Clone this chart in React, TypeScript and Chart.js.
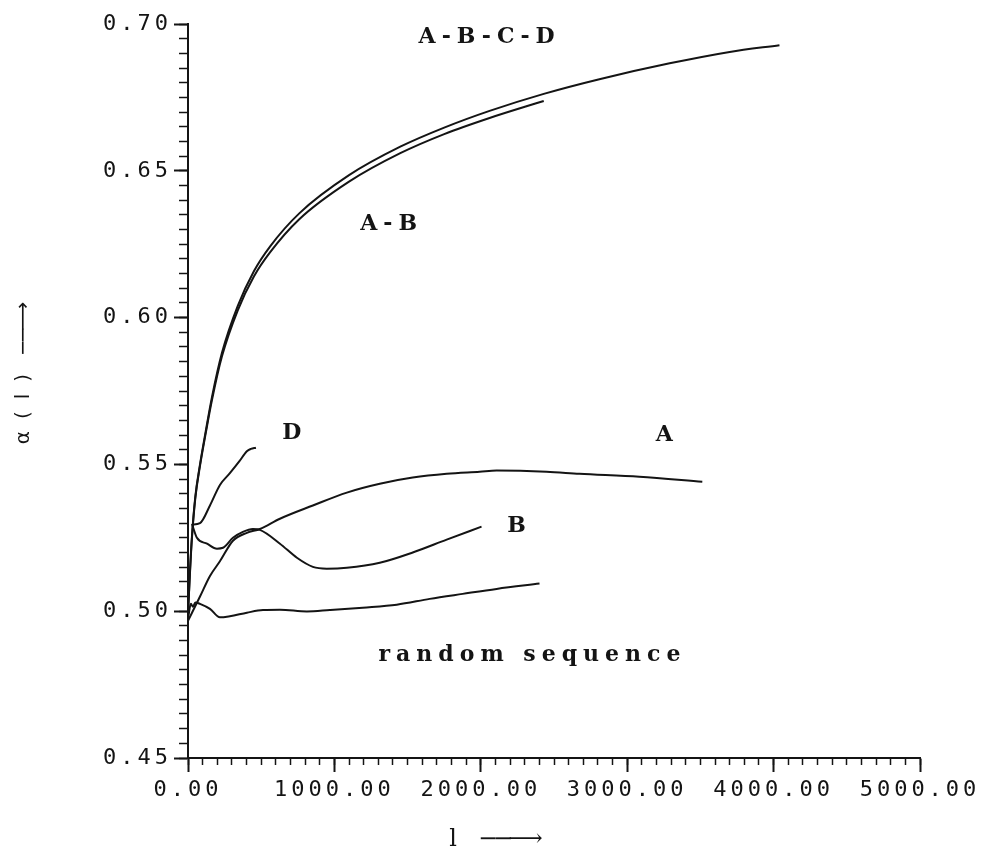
import React, { useEffect, useRef } from 'react';
import { Chart, registerables } from 'chart.js';

Chart.register(...registerables);

// ---- data ----
const xAbcd = [0, 10, 25, 50, 82, 120, 164, 232, 340, 450, 560, 760, 1100, 1450, 1750, 2060, 2430, 2810, 3290, 3700, 4040];
const yAbcd = [0.499, 0.51, 0.524, 0.539, 0.55, 0.561, 0.573, 0.588, 0.604, 0.6158, 0.6242, 0.6355, 0.6485, 0.6582, 0.6647, 0.6704, 0.6762, 0.6812, 0.6866, 0.6905, 0.6928];

const xAb = [0, 10, 25, 50, 82, 120, 164, 232, 340, 450, 560, 760, 1100, 1450, 1750, 2060, 2430];
const yAb = [0.499, 0.5095, 0.5235, 0.5385, 0.5495, 0.5603, 0.572, 0.5868, 0.6025, 0.614, 0.6222, 0.6335, 0.6463, 0.656, 0.6625, 0.668, 0.6738];

const xD = [27, 82, 150, 218, 286, 350, 402, 430, 464];
const yD = [0.5295, 0.53, 0.536, 0.543, 0.547, 0.551, 0.5545, 0.5553, 0.5557];

const xB = [27, 61, 130, 198, 239, 307, 375, 443, 491, 628, 744, 853, 948, 1085, 1310, 1535, 1767, 2005];
const yB = [0.5297, 0.525, 0.523, 0.5213, 0.5216, 0.525, 0.527, 0.528, 0.5277, 0.523, 0.5182, 0.5151, 0.5145, 0.5148, 0.5165, 0.52, 0.5244, 0.5288];

const xA = [0, 82, 150, 218, 307, 402, 491, 628, 853, 1085, 1310, 1535, 1767, 1992, 2108, 2449, 2674, 3083, 3513];
const yA = [0.4967, 0.505, 0.512, 0.517, 0.524, 0.5267, 0.528, 0.5315, 0.536, 0.5404, 0.5434, 0.5455, 0.5468, 0.5475, 0.5479, 0.5475, 0.5468, 0.5458, 0.5441];

const xRand = [0, 20, 34, 50, 82, 150, 218, 286, 402, 512, 628, 812, 969, 1194, 1426, 1651, 1876, 2108, 2401];
const yRand = [0.4975, 0.5025, 0.5015, 0.503, 0.5025, 0.5008, 0.4979, 0.4983, 0.4995, 0.5004, 0.5005, 0.4999, 0.5004, 0.5012, 0.5022, 0.5042, 0.5059, 0.5076, 0.5094];

const noteText = ['A-B-C-D', 'A-B', 'D', 'A', 'B', 'random sequence'];
const noteX = [2060, 1391, 730, 3274, 2265, 2353];
const noteY = [0.6935, 0.6297, 0.5588, 0.5578, 0.5271, 0.4831];

const xMin = 0;
const xMax = 5000;
const xMajorStep = 1000;
const xMinorStep = 100;
const yMin = 0.45;
const yMax = 0.7;
const yMajorStep = 0.05;
const yMinorStep = 0.005;

const EM = '\u2003';
const EN = '\u2002';
const ARROW = '\u2212\u2212\u27F6';
const xTitle = 'l' + EM + EN + ARROW + EM.repeat(6) + EN;
const yTitle = EM + EM + '\u03B1' + EM + '(' + EM + 'l' + EM + ')' + EM + EN + ARROW;

const INK = '#141414';

const toPoints = (xs: number[], ys: number[]) => xs.map((x, i) => ({ x, y: ys[i] }));

const plotterPlugin = {
  id: 'plotterText',
  afterLayout(chart: any) {
    const ctx = chart.ctx;
    Object.values(chart.scales).forEach((s: any) => {
      if (s.__wrapped) return;
      s.__wrapped = true;
      const origLabels = s.drawLabels.bind(s);
      const origTitle = s.drawTitle.bind(s);
      s.drawLabels = (area: any) => {
        ctx.save();
        ctx.letterSpacing = '4px';
        origLabels(area);
        ctx.restore();
      };
      s.drawTitle = () => {
        ctx.save();
        ctx.letterSpacing = s.id === 'x' ? '-5px' : '-4px';
        origTitle();
        ctx.restore();
      };
    });
  },
  afterDatasetsDraw(chart: any) {
    const ctx = chart.ctx;
    const sx = chart.scales.x;
    const sy = chart.scales.y;
    ctx.save();
    ctx.fillStyle = INK;
    ctx.font = "bold 22px 'DejaVu Serif'";
    ctx.letterSpacing = '6px';
    ctx.textAlign = 'center';
    ctx.textBaseline = 'alphabetic';
    noteText.forEach((t, i) => {
      ctx.fillText(t, sx.getPixelForValue(noteX[i]), sy.getPixelForValue(noteY[i]));
    });
    ctx.restore();
  },
};

export default function App() {
  const ref = useRef<HTMLCanvasElement | null>(null);

  useEffect(() => {
    if (!ref.current) return;
    const line = (label: string, xs: number[], ys: number[]) => ({
      label,
      data: toPoints(xs, ys),
      borderColor: INK,
      backgroundColor: INK,
      borderWidth: 2,
      pointRadius: 0,
      fill: false,
      cubicInterpolationMode: 'monotone' as const,
      xAxisID: 'x',
      yAxisID: 'y',
    });
    const tickFont = { family: "'DejaVu Sans Mono', monospace", size: 22 };
    const chart = new Chart(ref.current, {
      type: 'line',
      data: {
        datasets: [
          line('A-B-C-D', xAbcd, yAbcd),
          line('A-B', xAb, yAb),
          line('D', xD, yD),
          line('B', xB, yB),
          line('A', xA, yA),
          line('random sequence', xRand, yRand),
        ],
      },
      options: {
        responsive: false,
        animation: false,
        devicePixelRatio: 1,
        layout: { padding: { top: 24, right: 68, left: 0, bottom: 0 } },
        plugins: { legend: { display: false }, tooltip: { enabled: false } },
        scales: {
          x: {
            type: 'linear',
            position: 'bottom',
            min: xMin,
            max: xMax,
            afterFit: (s: any) => { s.height = 97; },
            ticks: {
              stepSize: xMajorStep,
              autoSkip: false,
              maxRotation: 0,
              padding: 5,
              color: INK,
              font: tickFont,
              callback: (v: any) => Number(v).toFixed(2),
            },
            grid: { drawOnChartArea: false, drawTicks: true, tickLength: 14, tickWidth: 2, tickColor: INK },
            border: { display: true, color: INK, width: 2 },
            title: {
              display: true,
              text: xTitle,
              color: INK,
              font: { family: "'DejaVu Serif', serif", size: 24, lineHeight: 1 },
              padding: { top: 0, bottom: 3 },
            },
          },
          y: {
            type: 'linear',
            position: 'left',
            min: yMin,
            max: yMax,
            afterFit: (s: any) => { s.width = 188; },
            ticks: {
              stepSize: yMajorStep,
              autoSkip: false,
              padding: 2,
              color: INK,
              font: tickFont,
              callback: (v: any) => Number(v).toFixed(2),
            },
            grid: { drawOnChartArea: false, drawTicks: true, tickLength: 14, tickWidth: 2, tickColor: INK },
            border: { display: true, color: INK, width: 2 },
            title: {
              display: true,
              text: yTitle,
              color: INK,
              font: { family: "'DejaVu Sans', sans-serif", size: 20, lineHeight: 1 },
              padding: { top: 14, bottom: 0 },
            },
          },
          x2: {
            type: 'linear',
            axis: 'x',
            position: { y: yMin },
            min: xMin,
            max: xMax,
            ticks: { display: false, stepSize: xMinorStep, autoSkip: false },
            grid: { drawOnChartArea: false, drawTicks: true, tickLength: 7, tickWidth: 1.5, tickColor: INK },
            border: { display: false },
          },
          y2: {
            type: 'linear',
            axis: 'y',
            position: { x: xMin },
            min: yMin,
            max: yMax,
            ticks: { display: false, stepSize: yMinorStep, autoSkip: false },
            grid: { drawOnChartArea: false, drawTicks: true, tickLength: 9, tickWidth: 1.5, tickColor: INK },
            border: { display: false },
          },
        } as any,
      },
      plugins: [plotterPlugin],
    });
    return () => chart.destroy();
  }, []);

  return (
    <div style={{ position: 'fixed', left: 0, top: 0, width: 988, height: 855, background: '#fff' }}>
      <canvas ref={ref} width={988} height={855} style={{ width: 988, height: 855, display: 'block' }} />
    </div>
  );
}
